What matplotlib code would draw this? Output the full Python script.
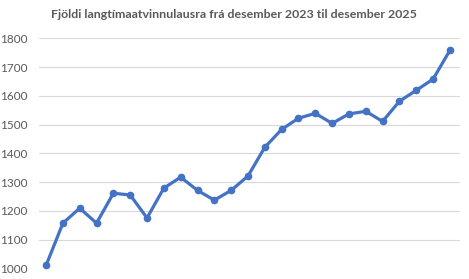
import matplotlib
matplotlib.use("Agg")
import matplotlib.pyplot as plt

months = list(range(25))  # desember 2023 .. desember 2025
values = [1010, 1157, 1209, 1157, 1261, 1255, 1175, 1279, 1317, 1271, 1237, 1271,
          1321, 1421, 1483, 1522, 1539, 1504, 1537, 1546, 1511, 1581, 1619, 1658, 1758]
yticks = [1000, 1100, 1200, 1300, 1400, 1500, 1600, 1700, 1800]
title = "Fjöldi langtímaatvinnulausra frá desember 2023 til desember 2025"

plt.rcParams['font.family'] = ['Lato', 'DejaVu Sans']

fig = plt.figure(figsize=(4.69, 2.79), dpi=100)
ax = fig.add_axes([39/469, 1-268.3/279, (460-39)/469, (268.3-38.3)/279])

ax.plot(months, values, color='#4472C4', lw=2.3, marker='o', markersize=4.5,
        solid_capstyle='round', solid_joinstyle='round', zorder=3, clip_on=False)

ax.set_ylim(1000, 1800)
ax.set_yticks(yticks)
ax.set_xlim(-0.42, 24.6)
ax.set_xticks([])
ax.grid(axis='y', color='#D9D9D9', lw=0.8)
ax.set_axisbelow(True)
for s in ax.spines.values():
    s.set_visible(False)
ax.tick_params(axis='y', length=0, pad=8.5, labelsize=8.5, labelcolor='#595959')

fig.text(234/469, 1-15/279, title, ha='center', va='center', fontsize=8.9,
         fontweight='bold', color='#595959')

fig.savefig('out.png', dpi=100)
